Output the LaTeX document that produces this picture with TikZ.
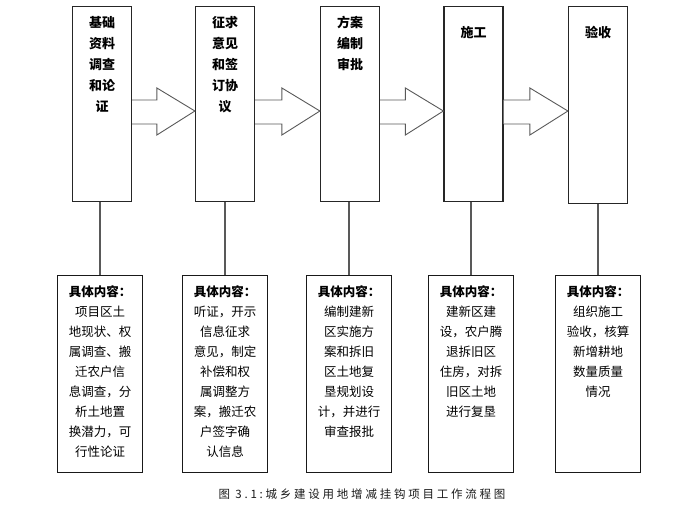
\documentclass[tikz,border=0pt]{standalone}
\usepackage{fontspec}
\usepackage{tikz}
\usetikzlibrary{calc}
\newfontfamily\cjk{Noto Sans CJK SC}
\newfontfamily\capfont[LetterSpace=24]{Noto Sans CJK SC}

% fat arrow from the right side of one box to the left side of the next
\newcommand{\fatarrow}[2]{%
    \draw[fat arrow] ($(#1.north east)+(0,94)$) -- ($(#2.north west)+(-38,94)$)
        -- ($(#2.north west)+(-38,82)$) -- ($(#2.north west)+(0,105)$)
        -- ($(#2.north west)+(-38,129)$) -- ($(#2.north west)+(-38,118)$)
        -- ($(#1.north east)+(0,118)$);}

\begin{document}
\begin{tikzpicture}[x=1pt,y=-1pt,
        stage/.style={draw=black!85,line width=1.2pt,fill=white,minimum width=59pt,minimum height=195pt,anchor=north,inner sep=0pt},
        stagetext/.style={align=center,font=\cjk\bfseries\fontsize{13}{21}\selectfont,anchor=north,yshift=-7pt},
        detail/.style={draw=black!90,line width=1.2pt,fill=white,minimum width=85pt,minimum height=197pt,anchor=north,
            align=center,inner sep=0pt,font=\cjk\fontsize{12.5}{20}\selectfont},
        fat arrow/.style={draw=black!65,line width=0.9pt,fill=white,line join=miter},
        link/.style={draw=black!65,line width=1.6pt}]

    \useasboundingbox (0,0) rectangle (696,508);

    \node[stage,label={[stagetext]north:基础\\资料\\调查\\和论\\证}] (top1) at (102,6) {};
    \node[stage,label={[stagetext]north:征求\\意见\\和签\\订协\\议}] (top2) at (225,6) {};
    \node[stage,label={[stagetext]north:方案\\编制\\审批}] (top3) at (350,6) {};
    \node[stage,label={[stagetext]north:\mbox{}\\施工}] (top4) at (473.5,6) {};
    \node[stage,minimum height=197pt,label={[stagetext]north:\mbox{}\\验收}] (top5) at (598,6) {};

    \fatarrow{top1}{top2}
    \fatarrow{top2}{top3}
    \fatarrow{top3}{top4}
    \fatarrow{top4}{top5}

    \node[detail] (det1) at (100,275) {\parbox[t][190pt][t]{80pt}{\centering\vspace{7pt}%
        \textbf{具体内容：}\\项目区土\\地现状、权\\属调查、搬\\迁农户信\\息调查，分\\析土地置\\换潜力，可\\行性论证}};
    \node[detail] (det2) at (225,275) {\parbox[t][190pt][t]{80pt}{\centering\vspace{7pt}%
        \textbf{具体内容：}\\听证，开示\\信息征求\\意见，制定\\补偿和权\\属调整方\\案，搬迁农\\户签字确\\认信息}};
    \node[detail] (det3) at (349,275) {\parbox[t][190pt][t]{80pt}{\centering\vspace{7pt}%
        \textbf{具体内容：}\\编制建新\\区实施方\\案和拆旧\\区土地复\\垦规划设\\计，并进行\\审查报批}};
    \node[detail] (det4) at (471,275) {\parbox[t][190pt][t]{80pt}{\centering\vspace{7pt}%
        \textbf{具体内容：}\\建新区建\\设，农户腾\\退拆旧区\\住房，对拆\\旧区土地\\进行复垦}};
    \node[detail] (det5) at (598,275) {\parbox[t][190pt][t]{80pt}{\centering\vspace{7pt}%
        \textbf{具体内容：}\\组织施工\\验收，核算\\新增耕地\\数量质量\\情况}};

    \foreach \i in {1,...,5}
        \draw[link] (top\i.south -| det\i.north) -- (det\i.north);

    \node[font=\capfont\fontsize{11.5}{13}\selectfont,text=black!90] (caption) at (362,494) {图 3.1:城乡建设用地增减挂钩项目工作流程图};
\end{tikzpicture}
\end{document}
